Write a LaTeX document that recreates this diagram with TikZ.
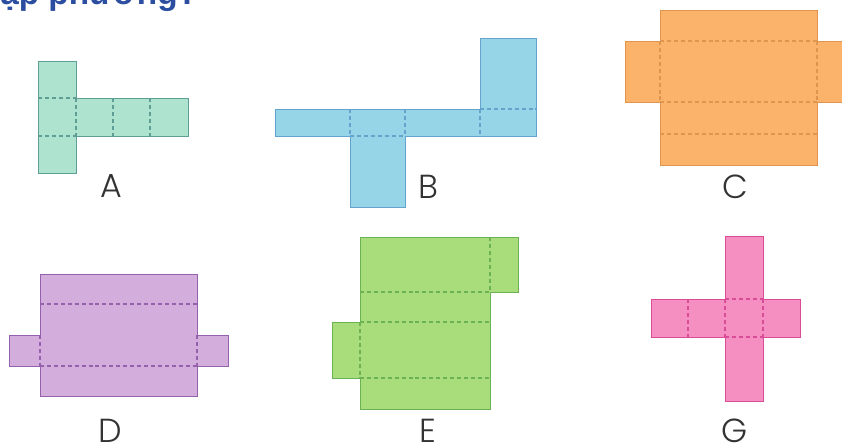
\documentclass[tikz,border=0pt]{standalone}
\usepackage{fontspec}
\usepackage{tikz}
\setmainfont{Liberation Sans}
\newfontfamily\letterfont[UprightFont=* Light]{Poppins}
\definecolor{fillA}{HTML}{AEE3D0}
\definecolor{lineA}{HTML}{5F9E94}
\definecolor{fillB}{HTML}{96D5E8}
\definecolor{lineB}{HTML}{64A4CC}
\definecolor{fillC}{HTML}{FBB36B}
\definecolor{lineC}{HTML}{DF9450}
\definecolor{fillD}{HTML}{D3AEDD}
\definecolor{lineD}{HTML}{9560AC}
\definecolor{fillE}{HTML}{A9DC7A}
\definecolor{lineE}{HTML}{6CB254}
\definecolor{fillG}{HTML}{F58FC2}
\definecolor{lineG}{HTML}{D94C96}
\definecolor{titleblue}{HTML}{2B4EA0}
\begin{document}
\begin{tikzpicture}[x=.75pt,y=-.75pt,line join=miter,
    net/.style={line width=.7pt},
    fold/.style={line width=.8pt,dash pattern=on 3pt off 2.2pt},
    letter/.style={font=\letterfont\fontsize{25}{25}\selectfont,text=black!80,inner sep=0pt}]
  \clip (0,0) rectangle (842,444);
  \node[font=\bfseries\fontsize{25}{25}\selectfont,text=titleblue,anchor=base west,inner sep=0pt] (title) at (0,4) {ập phương?};
  % A
  \draw[net,fill=fillA,draw=lineA] (38,61)--(76,61)--(76,98)--(188,98)--(188,136)--(76,136)--(76,173)--(38,173)--cycle;
  \draw[fold,draw=lineA] (38,98)--(76,98) (38,136)--(76,136) (76,98)--(76,136) (113,98)--(113,136) (150,98)--(150,136);
  \node[letter] (labelA) at (111,186) {A};
  % B
  \draw[net,fill=fillB,draw=lineB] (275,109)--(480,109)--(480,38)--(536,38)--(536,136)--(405,136)--(405,207)--(350,207)--(350,136)--(275,136)--cycle;
  \draw[fold,draw=lineB] (350,109)--(350,136) (405,109)--(405,136) (480,109)--(480,136) (350,136)--(405,136) (480,109)--(536,109);
  \node[letter] (labelB) at (428,187) {B};
  % C
  \draw[net,fill=fillC,draw=lineC] (660,10)--(817,10)--(817,41)--(848,41)--(848,102)--(817,102)--(817,165)--(660,165)--(660,102)--(625,102)--(625,41)--(660,41)--cycle;
  \draw[fold,draw=lineC] (660,41)--(817,41) (660,102)--(817,102) (660,134)--(817,134) (660,41)--(660,102) (817,41)--(817,102);
  \node[letter] (labelC) at (735,187) {C};
  % D
  \draw[net,fill=fillD,draw=lineD] (40,274)--(197,274)--(197,335)--(228,335)--(228,366)--(197,366)--(197,396)--(40,396)--(40,366)--(9,366)--(9,335)--(40,335)--cycle;
  \draw[fold,draw=lineD] (40,304)--(197,304) (40,366)--(197,366) (40,335)--(40,366) (197,335)--(197,366);
  \node[letter] (labelD) at (110,431) {D};
  % E
  \draw[net,fill=fillE,draw=lineE] (360,237)--(518,237)--(518,292)--(490,292)--(490,409)--(360,409)--(360,378)--(332,378)--(332,322)--(360,322)--cycle;
  \draw[fold,draw=lineE] (360,292)--(490,292) (360,322)--(490,322) (360,378)--(490,378) (490,237)--(490,292) (360,322)--(360,378);
  \node[letter] (labelE) at (428,431) {E};
  % G
  \draw[net,fill=fillG,draw=lineG] (725,236)--(763,236)--(763,299)--(800,299)--(800,337)--(763,337)--(763,401)--(725,401)--(725,337)--(651,337)--(651,299)--(725,299)--cycle;
  \draw[fold,draw=lineG] (688,299)--(688,337) (725,299)--(725,337) (763,299)--(763,337) (725,299)--(763,299) (725,337)--(763,337);
  \node[letter] (labelG) at (735,431) {G};
\end{tikzpicture}
\end{document}
